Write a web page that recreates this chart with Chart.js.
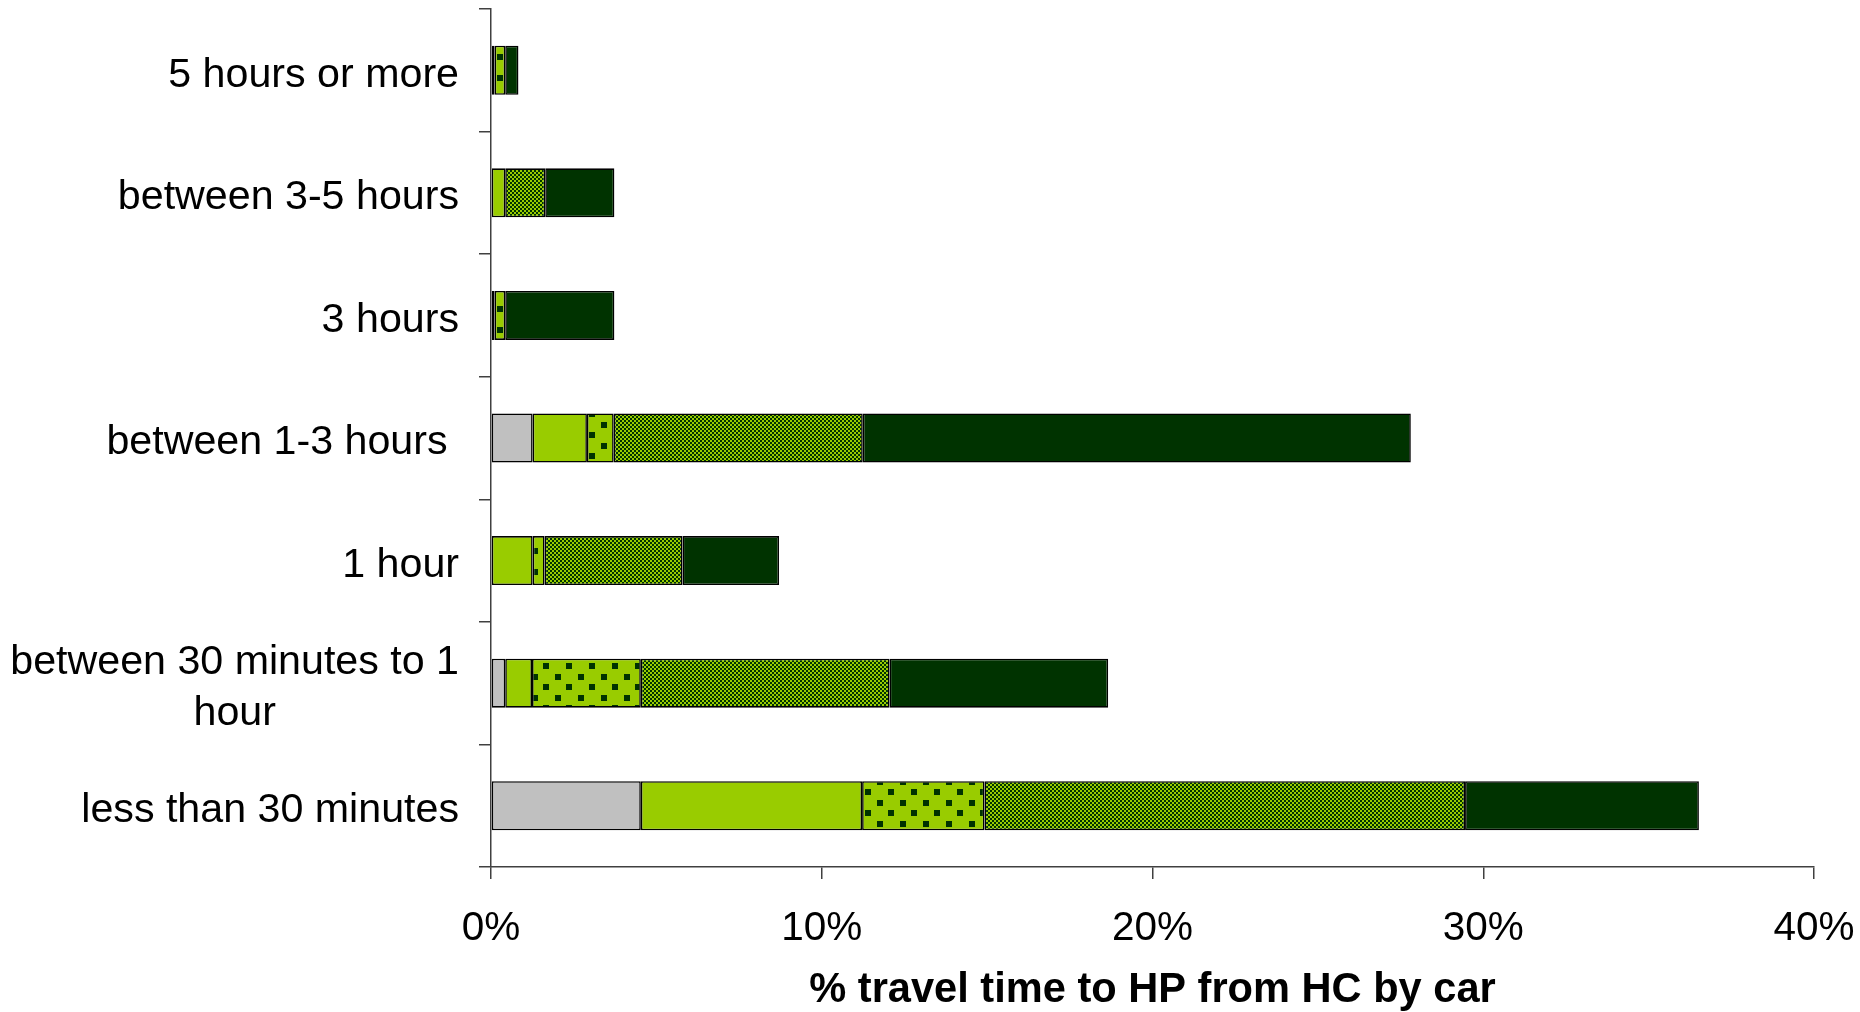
<!DOCTYPE html>
<html><head><meta charset="utf-8">
<script src="https://cdn.jsdelivr.net/npm/chart.js@4.4.0/dist/chart.umd.min.js"></script>
<style>html,body{margin:0;padding:0;background:#fff;}#wrap{width:1860px;height:1012px;}</style>
</head><body><div id="wrap"><canvas id="c" width="1860" height="1012"></canvas></div>
<script>
// Categories, top to bottom
const categories = [
  "5 hours or more",
  "between 3-5 hours",
  "3 hours",
  "between 1-3 hours ",
  "1 hour",
  ["between 30 minutes to 1", "hour                "],
  "less than 30 minutes"
];
// Series values (% of travel time), same order as categories
const seriesGray       = [0,    0,    0,    1.26, 0,    0.43, 4.53];
const seriesLightGreen = [0.11, 0.43, 0.11, 1.64, 1.26, 0.81, 6.69];
const seriesDotted     = [0.32, 0,    0.32, 0.81, 0.36, 3.29, 3.70];
const seriesChecker    = [0,    1.21, 0,    7.53, 4.17, 7.52, 14.53];
const seriesDark       = [0.40, 2.09, 3.30, 16.57, 2.92, 6.61, 7.07];
const xTickValues = [0, 10, 20, 30, 40];
const xTitle = "% travel time to HP from HC by car";

const GRAY = "#C0C0C0", LIGHT = "#99CC00", DARK = "#003300";

function makeDotPattern() {
  const t = document.createElement("canvas");
  t.width = 23; t.height = 21;
  const g = t.getContext("2d");
  g.fillStyle = LIGHT; g.fillRect(0, 0, 23, 21);
  g.fillStyle = DARK;
  g.fillRect(3, 2, 6, 6);
  g.fillRect(14, 12, 6, 6);
  return g.createPattern(t, "repeat");
}
function makeCheckPattern() {
  const t = document.createElement("canvas");
  t.width = 4; t.height = 4;
  const g = t.getContext("2d");
  g.fillStyle = LIGHT; g.fillRect(0, 0, 4, 4);
  g.fillStyle = DARK;
  g.fillRect(0, 0, 2, 2);
  g.fillRect(2, 2, 2, 2);
  return g.createPattern(t, "repeat");
}

const ctx = document.getElementById("c").getContext("2d");
const dotPat = makeDotPattern();
const checkPat = makeCheckPattern();

const common = { borderColor: "#000000", borderWidth: 1.6, borderSkipped: false,
                 barPercentage: 0.4, categoryPercentage: 1.0 };

const bgPlugin = {
  id: "bg",
  beforeDraw(chart) {
    const c = chart.ctx; c.save(); c.fillStyle = "#fff";
    c.fillRect(0, 0, chart.width, chart.height); c.restore();
  }
};

// Nudge the category labels slightly down to match the reference baseline
const labelShift = {
  id: "labelShift",
  afterLayout(chart) {
    const s = chart.scales.y;
    if (s && !s._shiftWrapped) {
      const orig = s.drawLabels.bind(s);
      s.drawLabels = function (area) {
        const c = this.ctx; c.save(); c.translate(0, 5); orig(area); c.restore();
      };
      s._shiftWrapped = true;
    }
  }
};

function zeroPad(scale) {
  scale.paddingTop = 0; scale.paddingBottom = 0;
  scale.paddingLeft = 0; scale.paddingRight = 0;
}

new Chart(ctx, {
  type: "bar",
  data: {
    labels: categories,
    datasets: [
      Object.assign({ label: "s1", data: seriesGray, backgroundColor: GRAY }, common),
      Object.assign({ label: "s2", data: seriesLightGreen, backgroundColor: LIGHT }, common),
      Object.assign({ label: "s3", data: seriesDotted, backgroundColor: dotPat }, common),
      Object.assign({ label: "s4", data: seriesChecker, backgroundColor: checkPat }, common),
      Object.assign({ label: "s5", data: seriesDark, backgroundColor: DARK }, common)
    ]
  },
  options: {
    indexAxis: "y",
    responsive: false,
    animation: false,
    devicePixelRatio: 1,
    layout: { padding: { top: 9, right: 46, left: 0, bottom: 0 } },
    plugins: { legend: { display: false }, tooltip: { enabled: false } },
    scales: {
      y: {
        stacked: true,
        offset: true,
        grid: { display: true, drawOnChartArea: false, drawTicks: true, tickLength: 12,
                color: "#404040", lineWidth: 1.5, offset: true },
        border: { display: true, color: "#404040", width: 1.5 },
        ticks: { color: "#000", padding: 20,
                 font: { family: "'Liberation Sans', Arial, sans-serif", size: 41.2, lineHeight: 1.23 } },
        afterFit(scale) { scale.width = 491; zeroPad(scale); }
      },
      x: {
        stacked: true,
        min: 0, max: 40,
        afterBuildTicks(scale) { scale.ticks = xTickValues.map(v => ({ value: v })); },
        grid: { display: true, drawOnChartArea: false, drawTicks: true, tickLength: 12,
                color: "#404040", lineWidth: 1.5 },
        border: { display: true, color: "#404040", width: 1.5 },
        ticks: { color: "#000", padding: 26, maxRotation: 0, autoSkip: false,
                 callback: (v) => v + "%",
                 font: { family: "'Liberation Sans', Arial, sans-serif", size: 40.5, lineHeight: 1.2 } },
        title: { display: true, text: xTitle, color: "#000",
                 padding: { top: 0, bottom: -3 },
                 font: { family: "'Liberation Sans', Arial, sans-serif", size: 41.6, weight: "bold", lineHeight: 1.2 } },
        afterFit(scale) { scale.height = 145; zeroPad(scale); }
      }
    }
  },
  plugins: [bgPlugin, labelShift]
});
</script></body></html>
